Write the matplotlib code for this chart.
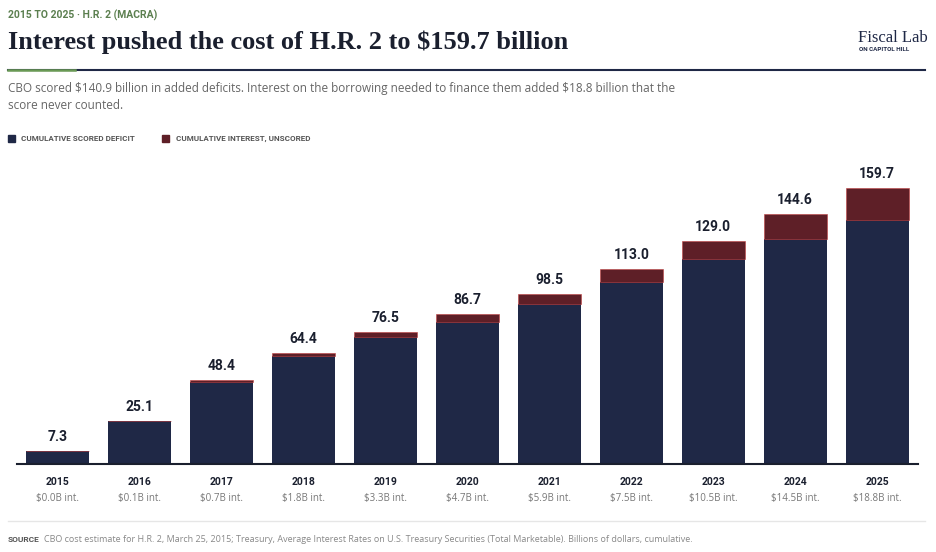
import numpy as np
import matplotlib.pyplot as plt

years = ["2015", "2016", "2017", "2018", "2019", "2020", "2021", "2022", "2023", "2024", "2025"]
totals = [7.3, 25.1, 48.4, 64.4, 76.5, 86.7, 98.5, 113.0, 129.0, 144.6, 159.7]
interest = [0.0, 0.1, 0.7, 1.8, 3.3, 4.7, 5.9, 7.5, 10.5, 14.5, 18.8]
int_labels = ["$0.0B int.", "$0.1B int.", "$0.7B int.", "$1.8B int.", "$3.3B int.", "$4.7B int.",
              "$5.9B int.", "$7.5B int.", "$10.5B int.", "$14.5B int.", "$18.8B int."]

NAVY = "#1f2846"
MAROON = "#5e1f27"
deficit = np.array(totals) - np.array(interest)

fig = plt.figure(figsize=(9.36, 5.52), dpi=100)
W, H = 936, 552

def txt(x, y, s, **kw):
    fig.text(x / W, 1 - y / H, s, va="center", parse_math=False, **kw)

# header
txt(8, 15, "2015 TO 2025 · H.R. 2 (MACRA)", color="#5b7f4f", fontsize=7.5, fontweight="bold", family="Roboto")
txt(8, 42, "Interest pushed the cost of H.R. 2 to $159.7 billion", color="#1a1f2e",
    fontsize=19, fontweight="bold", family="Liberation Serif")
txt(858, 38, "Fiscal Lab", color=NAVY, fontsize=12, family="Liberation Serif")
txt(859, 49, "ON CAPITOL HILL", color=NAVY, fontsize=4.5, fontweight="bold", family="Roboto")
fig.add_artist(plt.Line2D([8 / W, 925 / W], [1 - 70 / H] * 2, color=NAVY, lw=1.5))
fig.add_artist(plt.Line2D([8 / W, 75 / W], [1 - 70 / H] * 2, color="#6a9a55", lw=1.8))
txt(8, 89, "CBO scored $140.9 billion in added deficits. Interest on the borrowing needed to finance them added $18.8 billion that the",
    color="#666666", fontsize=8.5, family="Open Sans")
txt(8, 105, "score never counted.", color="#666666", fontsize=8.5, family="Open Sans")

# legend
fig.patches.append(plt.Rectangle((8 / W, 1 - 142 / H), 7 / W, 7 / H, color=NAVY, transform=fig.transFigure))
txt(21, 138.5, "CUMULATIVE SCORED DEFICIT", color="#555555", fontsize=5.8, fontweight="bold", family="Roboto")
fig.patches.append(plt.Rectangle((162 / W, 1 - 142 / H), 7 / W, 7 / H, color=MAROON, transform=fig.transFigure))
txt(176, 138.5, "CUMULATIVE INTEREST, UNSCORED", color="#555555", fontsize=5.8, fontweight="bold", family="Roboto")

# chart
ax = fig.add_axes([17 / W, 88 / H, 901 / W, 294 / H])
x = np.arange(len(years))
ax.bar(x, deficit, width=0.77, color=NAVY)
ax.bar(x, interest, bottom=deficit, width=0.77, color=MAROON, edgecolor="#c04040", linewidth=0.4)
for xi, t in zip(x, totals):
    ax.text(xi, t + 4, f"{t:.1f}", ha="center", va="bottom", fontsize=10, fontweight="bold",
            color="#1a1f2e", family="Roboto")
ax.set_xlim(-0.5, len(years) - 0.5)
ax.set_ylim(0, 170)
ax.set_xticks(x)
ax.set_xticklabels([])
for xi, y, il in zip(x, years, int_labels):
    ax.text(xi, -0.045, y, transform=ax.get_xaxis_transform(), ha="center", va="top",
            fontsize=7.5, fontweight="bold", color="#1a1f2e", family="Roboto")
    ax.text(xi, -0.1, il, transform=ax.get_xaxis_transform(), ha="center", va="top",
            fontsize=7, color="#777777", family="Open Sans", parse_math=False)
ax.tick_params(length=0)
ax.set_yticks([])
for s in ["top", "right", "left"]:
    ax.spines[s].set_visible(False)
ax.spines["bottom"].set_color("#1a1f2e")
ax.spines["bottom"].set_linewidth(1.5)

# footer
fig.add_artist(plt.Line2D([8 / W, 925 / W], [1 - 521 / H] * 2, color="#e6e6e6", lw=1))
txt(8, 539, "SOURCE", color="#555555", fontsize=6, fontweight="bold", family="Roboto")
txt(44, 539, "CBO cost estimate for H.R. 2, March 25, 2015; Treasury, Average Interest Rates on U.S. Treasury Securities (Total Marketable). Billions of dollars, cumulative.",
    color="#888888", fontsize=6.5, family="Open Sans")

fig.savefig("out.png", dpi=100)
